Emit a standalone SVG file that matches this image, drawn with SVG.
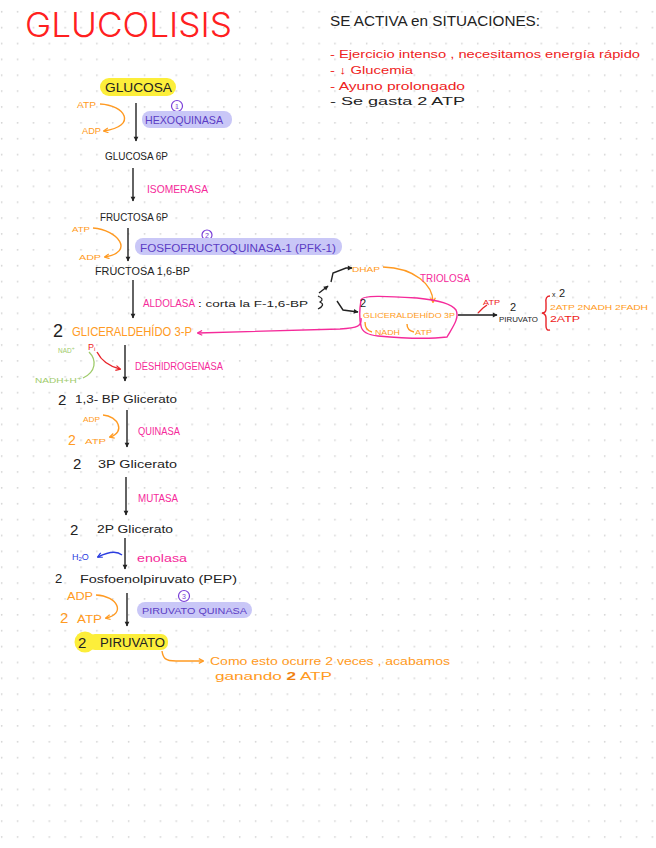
<svg xmlns="http://www.w3.org/2000/svg" width="656" height="848" viewBox="0 0 656 848">
<defs>
<pattern id="dots" patternUnits="userSpaceOnUse" x="0" y="0" width="15.87" height="15.87">
<circle cx="1.7" cy="11.7" r="0.9" fill="#d2d2d2"/>
</pattern>
<marker id="ak" viewBox="0 0 10 10" refX="8" refY="5" markerWidth="6" markerHeight="6" markerUnits="userSpaceOnUse" orient="auto"><path d="M1 1 L9 5 L1 9 Z" fill="#222"/></marker>
<marker id="ao" viewBox="0 0 10 10" refX="8" refY="5" markerWidth="6" markerHeight="6" markerUnits="userSpaceOnUse" orient="auto"><path d="M1 1 L9 5 L1 9" fill="none" stroke="#ff9a22" stroke-width="2"/></marker>
<marker id="ap" viewBox="0 0 10 10" refX="8" refY="5" markerWidth="6" markerHeight="6" markerUnits="userSpaceOnUse" orient="auto"><path d="M1 1 L9 5 L1 9" fill="none" stroke="#f52a9a" stroke-width="2"/></marker>
<marker id="ar" viewBox="0 0 10 10" refX="8" refY="5" markerWidth="6" markerHeight="6" markerUnits="userSpaceOnUse" orient="auto"><path d="M1 1 L9 5 L1 9" fill="none" stroke="#e8242a" stroke-width="2"/></marker>
<marker id="ab" viewBox="0 0 10 10" refX="8" refY="5" markerWidth="6" markerHeight="6" markerUnits="userSpaceOnUse" orient="auto"><path d="M1 1 L9 5 L1 9" fill="none" stroke="#2b3de0" stroke-width="2"/></marker>
</defs>
<style>
text{font-family:"Liberation Sans","DejaVu Sans",sans-serif;}
.k{fill:#222;}
.o{fill:#ff9a22;}
.p{fill:#f52a9a;}
.v{fill:#5b3cc4;}
.r{fill:#ee2222;}
.g{fill:#9ecb6a;}
.b{fill:#2b3de0;}
.ln{fill:none;stroke:#222;stroke-width:1.4;}
.lo{fill:none;stroke:#ff9a22;stroke-width:1.4;}
.hl{fill:#c9c7f7;}
.hy{fill:#fcee3a;}
.circ{fill:none;stroke:#7a3fd8;stroke-width:1.2;}
</style>
<rect width="656" height="848" fill="#ffffff"/>
<rect width="656" height="848" fill="url(#dots)"/>

<g id="title">
<text x="25" y="37" font-size="34" fill="#ff2020" font-weight="300" style="font-family:Inter,'Liberation Sans',sans-serif" textLength="207" lengthAdjust="spacingAndGlyphs">GLUCOLISIS</text>
</g>

<g id="situaciones">
<text x="330" y="26" font-size="14" class="k" textLength="210" lengthAdjust="spacingAndGlyphs">SE ACTIVA en SITUACIONES:</text>
<text x="330" y="58" font-size="11" class="r" textLength="310" lengthAdjust="spacingAndGlyphs">- Ejercicio intenso , necesitamos energía rápido</text>
<text x="330" y="74" font-size="11" class="r" textLength="83" lengthAdjust="spacingAndGlyphs">- ↓ Glucemia</text>
<text x="330" y="90" font-size="11" class="r" textLength="135" lengthAdjust="spacingAndGlyphs">- Ayuno prolongado</text>
<text x="330" y="105" font-size="11" class="k" textLength="135" lengthAdjust="spacingAndGlyphs">- Se gasta 2 ATP</text>
</g>

<g id="connectors">
<path class="ln" d="M136 103 L136 141" marker-end="url(#ak)"/>
<path class="ln" d="M133 168 L133 201" marker-end="url(#ak)"/>
<path class="ln" d="M128 228 L128 261" marker-end="url(#ak)"/>
<path class="ln" d="M133 280 L133 318" marker-end="url(#ak)"/>
<path class="ln" d="M125 345 L125 381" marker-end="url(#ak)"/>
<path class="ln" d="M127 410 L127 447" marker-end="url(#ak)"/>
<path class="ln" d="M126 477 L126 515" marker-end="url(#ak)"/>
<path class="ln" d="M125 538 L125 569" marker-end="url(#ak)"/>
<path class="ln" d="M127 593 L127 626" marker-end="url(#ak)"/>
<path class="lo" d="M100 104 C125 105, 138 126, 104 131" marker-end="url(#ao)"/>
<path class="lo" d="M93 228 C118 230, 135 252, 105 257" marker-end="url(#ao)"/>
<path class="lo" d="M103 415 C118 416, 126 432, 110 437" marker-end="url(#ao)"/>
<path class="lo" d="M96 595 C118 596, 126 614, 106 618" marker-end="url(#ao)"/>
<path class="lo" d="M383 267 C415 268, 433 285, 433 302" marker-end="url(#ao)"/>
<path class="lo" d="M162 651 C163 658, 165 661, 176 661 L203 661" marker-end="url(#ao)"/>
<path class="lo" d="M365 322 C365 327, 367 331, 372 332"/>
<path class="lo" d="M407 324 C407 328, 409 331, 414 332"/>
<path fill="none" stroke="#222" stroke-width="1.2" d="M318 296 Q325 299 320 302 Q326 305 318 309"/>
<path class="ln" d="M319 293 L328 286" marker-end="url(#ak)"/>
<path class="ln" d="M331 282 L333 273 L346 268 L352 268" marker-end="url(#ak)"/>
<path class="ln" d="M337 301 L343 310 L358 312" marker-end="url(#ak)"/>
<path fill="none" stroke="#f52a9a" stroke-width="1.4" d="M361 300 C362 295 385 296 417 298 C437 300 452 304 456 310 C460 318 452 328 447 337 C430 339 400 338 378 336 C368 335 362 332 361 326 C359 318 360 306 361 300 Z"/>
<path fill="none" stroke="#f52a9a" stroke-width="1.4" d="M361 318 C362 326, 358 328, 340 329 L198 333" marker-end="url(#ap)"/>
<path fill="none" stroke="#555" stroke-width="2" d="M458 315 L497 315" marker-end="url(#ak)"/>
<path fill="none" stroke="#e8242a" stroke-width="1.3" d="M478 313 L483 308 L487 305"/>
<path fill="none" stroke="#e8242a" stroke-width="1.4" d="M550 296 Q545 296 546 303 L546 309 Q546 313 542 313 Q546 314 546 318 L546 326 Q546 331 550 330"/>
<path fill="none" stroke="#9ecb6a" stroke-width="1.3" d="M89 352 C97 360, 96 372, 83 378"/>
<path fill="none" stroke="#e8242a" stroke-width="1.4" d="M97 352 C101 360, 108 366, 120 369" marker-end="url(#ar)"/>
<path fill="none" stroke="#2b3de0" stroke-width="1.4" d="M122 555 C116 550, 106 553, 98 557" marker-end="url(#ab)"/>
</g>

<g id="glucosa">
<rect class="hy" x="100" y="78" width="76" height="18" rx="9"/>
<text x="105" y="92" font-size="13" class="k" textLength="67" lengthAdjust="spacingAndGlyphs">GLUCOSA</text>
</g>
<g id="hexoquinasa">
<circle class="circ" cx="177" cy="106" r="5.5"/>
<text x="177" y="109" font-size="7" fill="#7a3fd8" text-anchor="middle">1</text>
<rect class="hl" x="142" y="111" width="90" height="17" rx="8"/>
<text x="145" y="124" font-size="11" class="v" textLength="78" lengthAdjust="spacingAndGlyphs">HEXOQUINASA</text>
<text x="77" y="108" font-size="9" class="o" textLength="19" lengthAdjust="spacingAndGlyphs">ATP</text>
<text x="82" y="134" font-size="9" class="o" textLength="19" lengthAdjust="spacingAndGlyphs">ADP</text>
</g>
<g id="glucosa6p">
<text x="105" y="160" font-size="10" class="k" textLength="63" lengthAdjust="spacingAndGlyphs">GLUCOSA 6P</text>
</g>
<g id="isomerasa">
<text x="147" y="193" font-size="11" class="p" textLength="61" lengthAdjust="spacingAndGlyphs">ISOMERASA</text>
</g>
<g id="fructosa6p">
<text x="100" y="221" font-size="10" class="k" textLength="68" lengthAdjust="spacingAndGlyphs">FRUCTOSA 6P</text>
</g>
<g id="pfk1">
<text x="72" y="232" font-size="8" class="o" textLength="18" lengthAdjust="spacingAndGlyphs">ATP</text>
<text x="79" y="260" font-size="8" class="o" textLength="22" lengthAdjust="spacingAndGlyphs">ADP</text>
<circle class="circ" cx="207" cy="235" r="5"/>
<text x="207" y="238" font-size="7" fill="#7a3fd8" text-anchor="middle">2</text>
<rect class="hl" x="135" y="238" width="207" height="17" rx="8"/>
<text x="140" y="252" font-size="10" class="v" textLength="196" lengthAdjust="spacingAndGlyphs">FOSFOFRUCTOQUINASA-1 (PFK-1)</text>
</g>
<g id="fructosa16bp">
<text x="95" y="275" font-size="10" class="k" textLength="95" lengthAdjust="spacingAndGlyphs">FRUCTOSA 1,6-BP</text>
</g>
<g id="aldolasa">
<text x="143" y="307" font-size="10" class="p" textLength="52" lengthAdjust="spacingAndGlyphs">ALDOLASA</text>
<text x="198" y="307" font-size="9" class="k" textLength="110" lengthAdjust="spacingAndGlyphs">: corta la F-1,6-BP</text>
</g>
<g id="dhap">
<text x="352" y="272" font-size="8" class="o" textLength="28" lengthAdjust="spacingAndGlyphs">DHAP</text>
<text x="420" y="282" font-size="10" class="p" textLength="50" lengthAdjust="spacingAndGlyphs">TRIOLOSA</text>
</g>
<g id="gliceraldehido-blob">
<text x="360" y="307" font-size="11" class="k">2</text>
<text x="363" y="318" font-size="8" class="o" textLength="92" lengthAdjust="spacingAndGlyphs">GLICERALDEHÍDO 3P</text>
<text x="375" y="335" font-size="7" class="o" textLength="25" lengthAdjust="spacingAndGlyphs">NADH</text>
<text x="415" y="335" font-size="7" class="o" textLength="17" lengthAdjust="spacingAndGlyphs">ATP</text>
</g>
<g id="piruvato-right">
<text x="483" y="305" font-size="8" class="r" textLength="17" lengthAdjust="spacingAndGlyphs">ATP</text>
<text x="510" y="311" font-size="11" class="k">2</text>
<text x="499" y="322" font-size="8" class="k" textLength="39" lengthAdjust="spacingAndGlyphs">PIRUVATO</text>
<text x="552" y="297" font-size="7" class="k">x</text>
<text x="559" y="297" font-size="11" class="k">2</text>
<text x="550" y="310" font-size="8" class="o" textLength="98" lengthAdjust="spacingAndGlyphs">2ATP  2NADH  2FADH</text>
<text x="550" y="322" font-size="9" class="r" textLength="30" lengthAdjust="spacingAndGlyphs">2ATP</text>
</g>
<g id="gliceraldehido3p">
<text x="53" y="337" font-size="18" class="k">2</text>
<text x="72" y="336" font-size="12" class="o" textLength="120" lengthAdjust="spacingAndGlyphs">GLICERALDEHÍDO 3-P</text>
</g>
<g id="deshidrogenasa">
<text x="58" y="353" font-size="8" class="g" textLength="17" lengthAdjust="spacingAndGlyphs">NAD⁺</text>
<text x="88" y="350" font-size="9" class="r">P<tspan font-size="6" dy="1">i</tspan></text>
<text x="35" y="383" font-size="8" class="g" textLength="47" lengthAdjust="spacingAndGlyphs">NADH+H⁺</text>
<text x="135" y="370" font-size="10" class="p" textLength="88" lengthAdjust="spacingAndGlyphs">DESHIDROGENASA</text>
</g>
<g id="bpglicerato">
<text x="58" y="405" font-size="15" class="k">2</text>
<text x="75" y="403" font-size="10" class="k" textLength="102" lengthAdjust="spacingAndGlyphs">1,3- BP Glicerato</text>
</g>
<g id="quinasa">
<text x="83" y="422" font-size="8" class="o" textLength="17" lengthAdjust="spacingAndGlyphs">ADP</text>
<text x="68" y="445" font-size="14" class="o">2</text>
<text x="85" y="444" font-size="8" class="o" textLength="21" lengthAdjust="spacingAndGlyphs">ATP</text>
<text x="138" y="435" font-size="10" class="p" textLength="42" lengthAdjust="spacingAndGlyphs">QUINASA</text>
</g>
<g id="glicerato3p">
<text x="73" y="469" font-size="15" class="k">2</text>
<text x="98" y="468" font-size="10" class="k" textLength="79" lengthAdjust="spacingAndGlyphs">3P Glicerato</text>
</g>
<g id="mutasa">
<text x="138" y="502" font-size="10" class="p" textLength="40" lengthAdjust="spacingAndGlyphs">MUTASA</text>
</g>
<g id="glicerato2p">
<text x="70" y="535" font-size="15" class="k">2</text>
<text x="97" y="533" font-size="10" class="k" textLength="76" lengthAdjust="spacingAndGlyphs">2P Glicerato</text>
</g>
<g id="enolasa">
<text x="72" y="560" font-size="9" class="b">H<tspan font-size="6" dy="1">2</tspan><tspan dy="-1">O</tspan></text>
<text x="137" y="562" font-size="11" class="p" textLength="50" lengthAdjust="spacingAndGlyphs">enolasa</text>
</g>
<g id="pep">
<text x="55" y="583" font-size="13" class="k">2</text>
<text x="80" y="583" font-size="10" class="k" textLength="157" lengthAdjust="spacingAndGlyphs">Fosfoenolpiruvato (PEP)</text>
</g>
<g id="piruvato-quinasa">
<text x="67" y="600" font-size="10" class="o" textLength="26" lengthAdjust="spacingAndGlyphs">ADP</text>
<text x="60" y="623" font-size="15" class="o">2</text>
<text x="77" y="623" font-size="10" class="o" textLength="25" lengthAdjust="spacingAndGlyphs">ATP</text>
<circle class="circ" cx="184" cy="596" r="5.5"/>
<text x="184" y="599" font-size="7" fill="#7a3fd8" text-anchor="middle">3</text>
<rect class="hl" x="137" y="602" width="115" height="16" rx="8"/>
<text x="142" y="614" font-size="9" class="v" textLength="105" lengthAdjust="spacingAndGlyphs">PIRUVATO QUINASA</text>
</g>
<g id="piruvato">
<circle class="hy" cx="85" cy="642" r="10.5"/>
<rect class="hy" x="88" y="634" width="80" height="16" rx="7"/>
<text x="78" y="648" font-size="15" class="k">2</text>
<text x="100" y="647" font-size="12" class="k" textLength="65" lengthAdjust="spacingAndGlyphs">PIRUVATO</text>
</g>
<g id="nota">
<text x="210" y="665" font-size="11" class="o" textLength="240" lengthAdjust="spacingAndGlyphs">Como esto ocurre 2 veces , acabamos</text>
<text x="215" y="680" font-size="11" class="o" textLength="117" lengthAdjust="spacingAndGlyphs">ganando <tspan font-weight="bold" fill="#f08010">2</tspan> ATP</text>
</g>
</svg>
